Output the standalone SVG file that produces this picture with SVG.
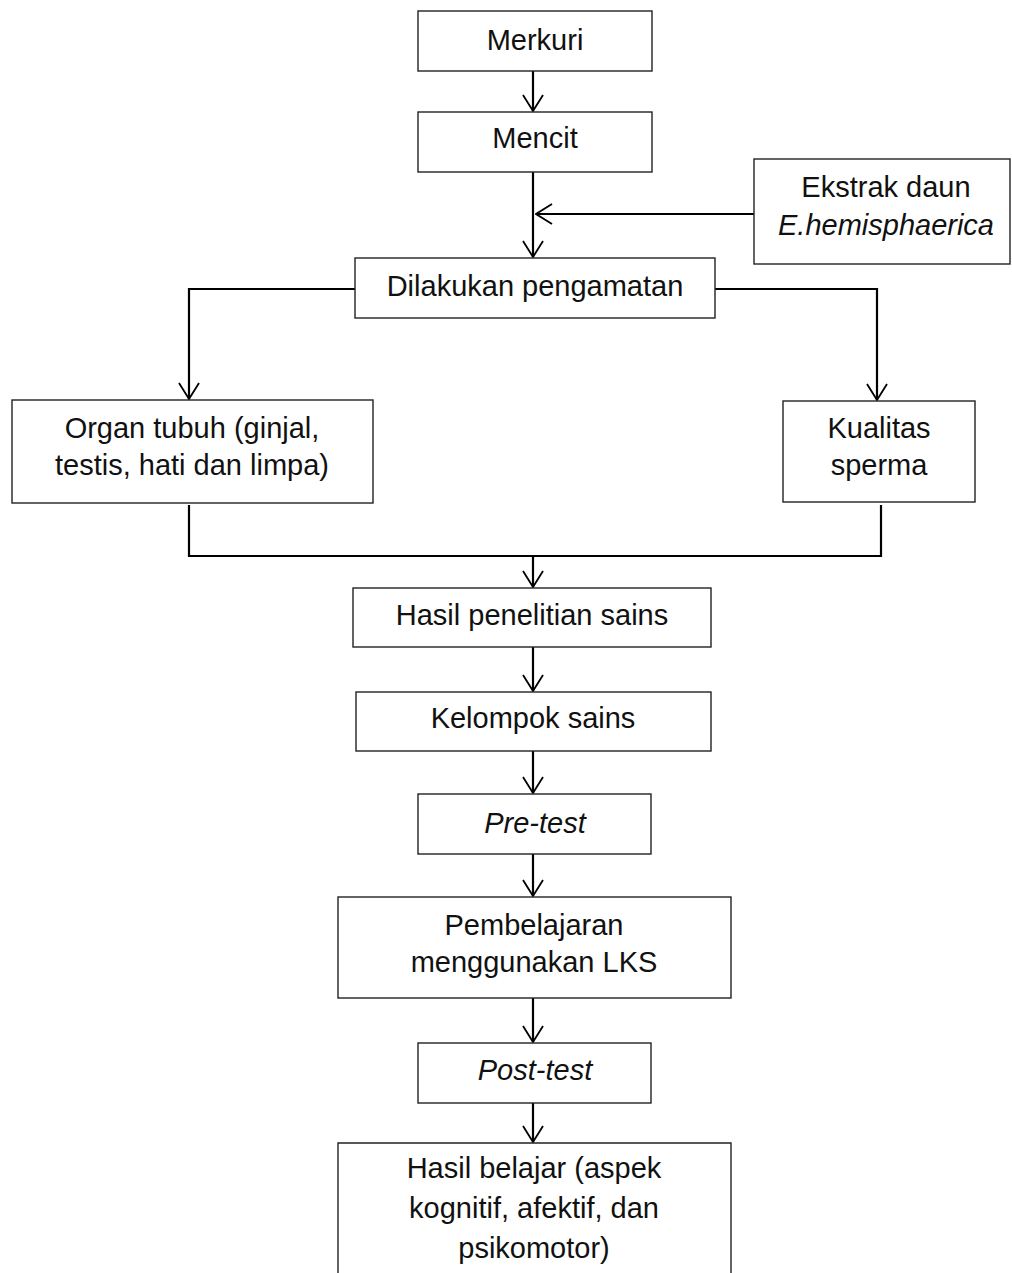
<svg xmlns="http://www.w3.org/2000/svg" width="1012" height="1273" viewBox="0 0 1012 1273">
<style>
.box{fill:#fff;stroke:#222;stroke-width:1.4}
.t{font-family:"Liberation Sans",Arial,sans-serif;font-size:29px;fill:#111;text-anchor:middle}
.i{font-style:italic}
.c{fill:none;stroke:#000;stroke-width:2.2}
</style>
<defs>
<marker id="ah" markerUnits="userSpaceOnUse" viewBox="0 0 18 22" refX="17" refY="11" markerWidth="18" markerHeight="22" orient="auto">
<path d="M1,1 L17,11 L1,21" fill="none" stroke="#000" stroke-width="1.8"/>
</marker>
</defs>
<rect width="1012" height="1273" fill="#fff"/>
<g id="connectors">
<line class="c" x1="533" y1="71" x2="533" y2="111" marker-end="url(#ah)"/>
<line class="c" x1="533" y1="172" x2="533" y2="257" marker-end="url(#ah)"/>
<line class="c" x1="754" y1="214" x2="536" y2="214" marker-end="url(#ah)"/>
<polyline class="c" points="355,289 189,289 189,399" marker-end="url(#ah)"/>
<polyline class="c" points="715,289 877,289 877,400" marker-end="url(#ah)"/>
<polyline class="c" points="189,505 189,556 881,556"/>
<line class="c" x1="881" y1="505" x2="881" y2="557"/>
<line class="c" x1="533" y1="556" x2="533" y2="587" marker-end="url(#ah)"/>
<line class="c" x1="533" y1="647" x2="533" y2="691" marker-end="url(#ah)"/>
<line class="c" x1="533" y1="751" x2="533" y2="793" marker-end="url(#ah)"/>
<line class="c" x1="533" y1="854" x2="533" y2="896" marker-end="url(#ah)"/>
<line class="c" x1="533" y1="998" x2="533" y2="1042" marker-end="url(#ah)"/>
<line class="c" x1="533" y1="1103" x2="533" y2="1142" marker-end="url(#ah)"/>
</g>
<g id="merkuri"><rect class="box" x="418" y="11" width="234" height="60"/><text class="t" x="535" y="50">Merkuri</text></g>
<g id="mencit"><rect class="box" x="418" y="112" width="234" height="60"/><text class="t" x="535" y="148">Mencit</text></g>
<g id="ekstrak"><rect class="box" x="754" y="159" width="256" height="105"/><text class="t" x="886" y="197">Ekstrak daun</text><text class="t i" x="886" y="235">E.hemisphaerica</text></g>
<g id="dilakukan"><rect class="box" x="355" y="258" width="360" height="60"/><text class="t" x="535" y="296">Dilakukan pengamatan</text></g>
<g id="organ"><rect class="box" x="12" y="400" width="361" height="103"/><text class="t" x="192" y="438">Organ tubuh (ginjal,</text><text class="t" x="192" y="475">testis, hati dan limpa)</text></g>
<g id="kualitas"><rect class="box" x="783" y="401" width="192" height="101"/><text class="t" x="879" y="438">Kualitas</text><text class="t" x="879" y="475">sperma</text></g>
<g id="hasil-penelitian"><rect class="box" x="353" y="588" width="358" height="59"/><text class="t" x="532" y="625">Hasil penelitian sains</text></g>
<g id="kelompok"><rect class="box" x="356" y="692" width="355" height="59"/><text class="t" x="533" y="728">Kelompok sains</text></g>
<g id="pretest"><rect class="box" x="418" y="794" width="233" height="60"/><text class="t i" x="535" y="833">Pre-test</text></g>
<g id="pembelajaran"><rect class="box" x="338" y="897" width="393" height="101"/><text class="t" x="534" y="935">Pembelajaran</text><text class="t" x="534" y="972">menggunakan LKS</text></g>
<g id="posttest"><rect class="box" x="418" y="1043" width="233" height="60"/><text class="t i" x="535" y="1080">Post-test</text></g>
<g id="hasil-belajar"><path class="box" d="M338,1290 L338,1143 L731,1143 L731,1290"/><text class="t" x="534" y="1178">Hasil belajar (aspek</text><text class="t" x="534" y="1218">kognitif, afektif, dan</text><text class="t" x="534" y="1258">psikomotor)</text></g>
</svg>
